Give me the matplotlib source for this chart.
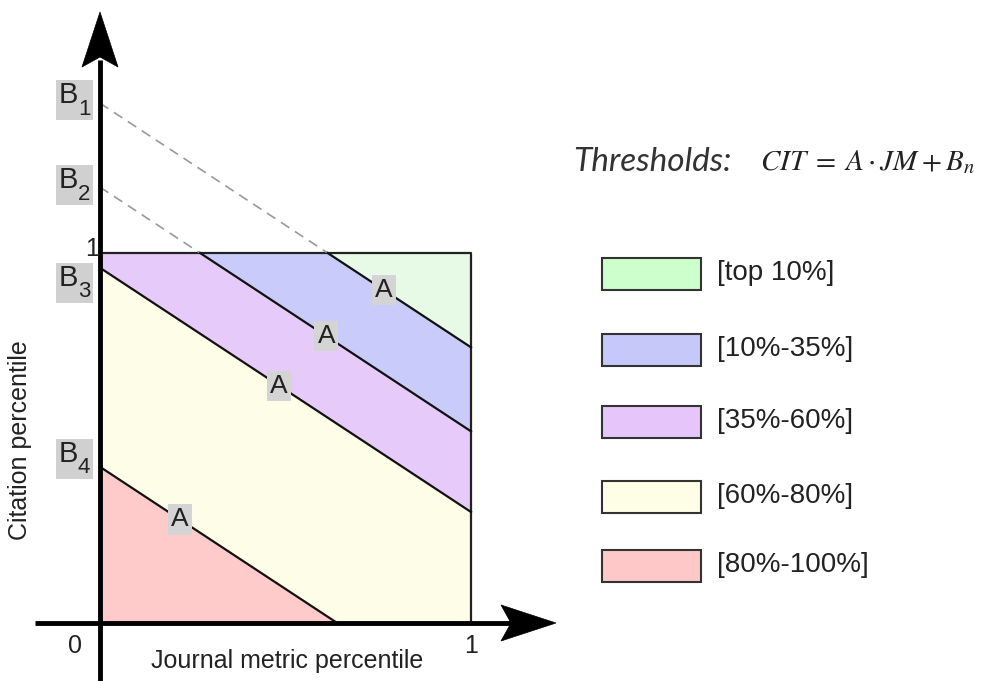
import numpy as np
import matplotlib
matplotlib.use("Agg")
import matplotlib.pyplot as plt
from matplotlib.patches import Rectangle, Polygon

plt.rcParams['font.family'] = ['Liberation Sans', 'DejaVu Sans']

# ---- data ----
A = -0.66
B_subscripts = ["1", "2", "3", "4"]
B_values = [1.405, 1.178, 0.960, 0.422]
A_label_x = [0.765, 0.61, 0.483, 0.215]
categories = ["[top 10%]", "[10%-35%]", "[35%-60%]", "[60%-80%]", "[80%-100%]"]
region_colors = ["#e6fae6", "#c9ccfa", "#e6cbfa", "#fefde8", "#ffcaca"]
legend_colors = ["#ccffcc", "#c6c8fa", "#e6c6fa", "#fefee6", "#ffc8c8"]

W, H = 984, 681
fig = plt.figure(figsize=(W / 100, H / 100), dpi=100)
ax = fig.add_axes([0, 0, 1, 1])
X0, Y0, SX, SY = 100, 623, 371, 370
ax.set_xlim(-X0 / SX, (W - X0) / SX)
ax.set_ylim(-(H - Y0) / SY, Y0 / SY)
ax.axis('off')

def p2d(px, py):
    return (px - X0) / SX, (Y0 - py) / SY

# ---- regions ----
x = np.linspace(0, 1, 600)
bounds = [np.ones_like(x)] + [np.clip(A * x + b, 0, 1) for b in B_values] + [np.zeros_like(x)]
for i, c in enumerate(region_colors):
    ax.fill_between(x, bounds[i + 1], bounds[i], color=c, lw=0, zorder=1)

# box
ax.plot([0, 1, 1, 0], [1, 1, 0, 0], color='#222222', lw=1.6, zorder=3)

# threshold lines
for b in B_values:
    x_end = min(1.0, -b / A)
    if b > 1:
        x_top = (1 - b) / A
        ax.plot([0, x_top], [b, 1], color='#999999', lw=1.2, ls=(0, (6, 4)), zorder=3)
        ax.plot([x_top, x_end], [1, A * x_end + b], color='#111111', lw=1.6, zorder=3)
    else:
        ax.plot([0, x_end], [b, A * x_end + b], color='#111111', lw=1.6, zorder=3)

# A labels
for b, xl in zip(B_values, A_label_x):
    ax.text(xl, A * xl + b, "A", ha='center', va='center', fontsize=19, color='#222222', zorder=5,
            bbox=dict(boxstyle='square,pad=0.12', fc='#d4d4d4', ec='none'))

# B labels (gray box with B and subscript)
B_box_offsets = [-23, -22, -5, -28]   # pixel offset of box top relative to line start
for sub, b, off in zip(B_subscripts, B_values, B_box_offsets):
    line_py = Y0 - b * SY
    top = line_py + off
    bx1, by1 = p2d(56, top + 40)
    bx2, by2 = p2d(93, top)
    ax.add_patch(Rectangle((bx1, by1), bx2 - bx1, by2 - by1, fc='#d0d0d0', ec='none', zorder=4))
    ax.text(*p2d(68, top + 15), "B", ha='center', va='center', fontsize=21, color='#222222', zorder=5)
    ax.text(*p2d(84, top + 29), sub, ha='center', va='center', fontsize=16, color='#222222', zorder=5)

# axes with arrows
ax.plot([p2d(35, 0)[0], p2d(520, 0)[0]], [0, 0], color='black', lw=3.5, zorder=4, solid_capstyle='butt')
ax.plot([0, 0], [p2d(0, 681)[1], p2d(0, 60)[1]], color='black', lw=3.5, zorder=4, solid_capstyle='butt')
def arrow_head(tip, direction):
    tx, ty = tip
    if direction == 'up':
        pts = [(tx, ty), (tx + 18, ty + 55), (tx, ty + 45), (tx - 18, ty + 55)]
    else:
        pts = [(tx, ty), (tx - 55, ty - 18), (tx - 45, ty), (tx - 55, ty + 18)]
    ax.add_patch(Polygon([p2d(*p) for p in pts], closed=True, fc='black', ec='black', lw=0.5, zorder=5))
arrow_head((100, 12), 'up')
arrow_head((556, 623), 'right')

# tick labels
ax.text(*p2d(92, 249), "1", ha='center', va='center', fontsize=18, color='#222222', zorder=5)
ax.text(*p2d(75, 646), "0", ha='center', va='center', fontsize=18, color='#222222')
ax.text(*p2d(471, 646), "1", ha='center', va='center', fontsize=18, color='#222222')
ax.text(*p2d(287, 661), "Journal metric percentile", ha='center', va='center', fontsize=18, color='#222222')
ax.text(*p2d(20, 440), "Citation percentile", ha='center', va='center', fontsize=18, rotation=90, color='#222222')

# formula
ax.text(*p2d(573, 162), "Thresholds:", ha='left', va='center', fontsize=24, style='italic',
        family=['Lato', 'DejaVu Sans'], color='#333333')
ax.text(*p2d(760, 162), r"$CIT\;=\;A\cdot JM+B_n$", ha='left', va='center', fontsize=21,
        math_fontfamily='stix', color='#222222')

# legend
leg_tops = [258, 334, 406, 481, 550]
for cat, col, top in zip(categories, legend_colors, leg_tops):
    x1, y1 = p2d(602, top + 32)
    x2, y2 = p2d(701, top)
    ax.add_patch(Rectangle((x1, y1), x2 - x1, y2 - y1, fc=col, ec='#333333', lw=1.5, zorder=3))
    ax.text(*p2d(717, top + 15), cat, ha='left', va='center', fontsize=20, color='#222222')

fig.savefig("out.png", dpi=100)
